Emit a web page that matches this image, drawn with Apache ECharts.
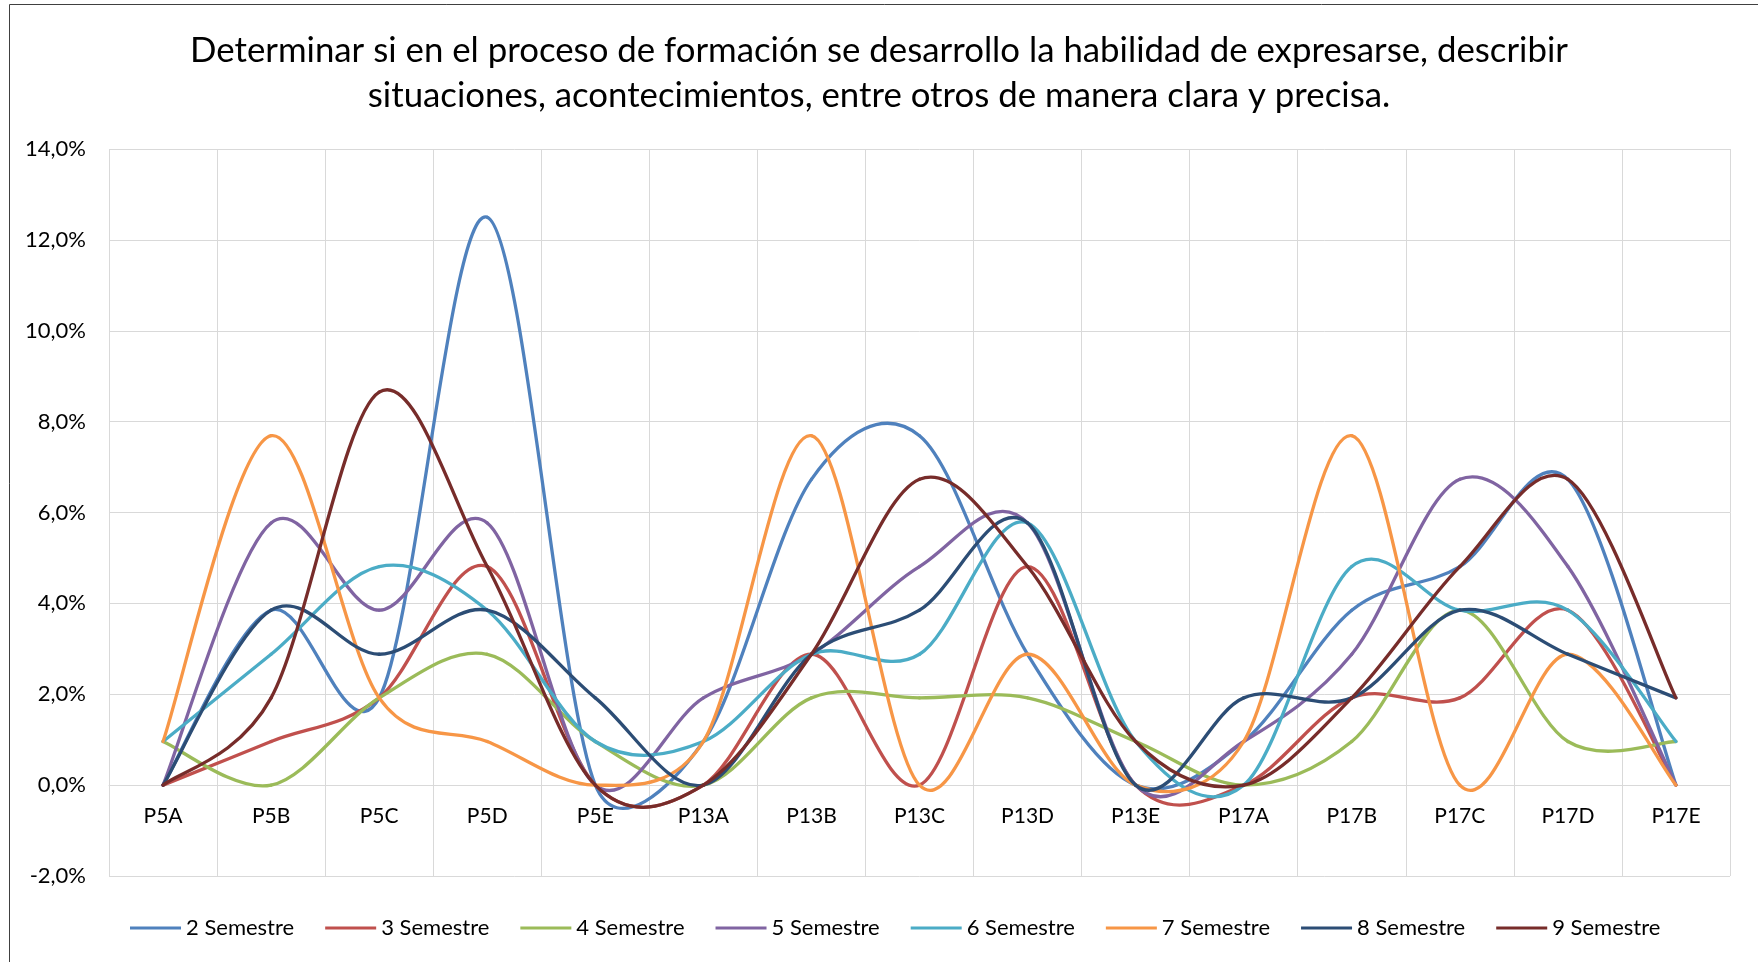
<!DOCTYPE html>
<html>
<head>
<meta charset="utf-8">
<title>Determinar si en el proceso de formación...</title>
<script src="https://cdn.jsdelivr.net/npm/echarts@6/dist/echarts.min.js"></script>
<style>
	html, body { margin: 0; padding: 0; background: #fff; }
	#chart { width: 1758px; height: 962px; }
</style>
</head>
<body>
<div id="chart"></div>
<script>
	// preguntas (eje x)
	var categories = ['P5A', 'P5B', 'P5C', 'P5D', 'P5E', 'P13A', 'P13B', 'P13C', 'P13D', 'P13E', 'P17A', 'P17B', 'P17C', 'P17D', 'P17E'];
	// porcentajes por semestre
	var sem2 = [0, 3.85, 1.92, 12.5, 0, 0.96, 6.73, 7.69, 2.88, 0, 0.96, 3.85, 4.81, 6.73, 0];
	var sem3 = [0, 0.96, 1.92, 4.81, 0, 0, 2.88, 0, 4.81, 0, 0, 1.92, 1.92, 3.85, 0];
	var sem4 = [0.96, 0, 1.92, 2.88, 0.96, 0, 1.92, 1.92, 1.92, 0.96, 0, 0.96, 3.85, 0.96, 0.96];
	var sem5 = [0, 5.77, 3.85, 5.77, 0, 1.92, 2.88, 4.81, 5.77, 0, 0.96, 2.88, 6.73, 4.81, 0];
	var sem6 = [0.96, 2.88, 4.81, 3.85, 0.96, 0.96, 2.88, 2.88, 5.77, 0.96, 0, 4.81, 3.85, 3.85, 0.96];
	var sem7 = [0.96, 7.69, 1.92, 0.96, 0, 0.96, 7.69, 0, 2.88, 0, 0.96, 7.69, 0, 2.88, 0];
	var sem8 = [0, 3.85, 2.88, 3.85, 1.92, 0, 2.88, 3.85, 5.77, 0, 1.92, 1.92, 3.85, 2.88, 1.92];
	var sem9 = [0, 1.92, 8.65, 4.81, 0, 0, 2.88, 6.73, 4.81, 0.96, 0, 1.92, 4.81, 6.73, 1.92];
	var seriesNames = ['2 Semestre', '3 Semestre', '4 Semestre', '5 Semestre', '6 Semestre', '7 Semestre', '8 Semestre', '9 Semestre'];
	var yTicks = { min: -2, max: 14, interval: 2 };

	var colors = ['#4F81BD', '#C0504D', '#9BBB59', '#8064A2', '#4BACC6', '#F79646', '#2C4D75', '#772C2A'];
	var allData = [sem2, sem3, sem4, sem5, sem6, sem7, sem8, sem9];
	var font = 'Lato, "Noto Sans", sans-serif';

	var chart = echarts.init(document.getElementById('chart'));

	function dist(a, b) {
		return Math.sqrt((a[0] - b[0]) * (a[0] - b[0]) + (a[1] - b[1]) * (a[1] - b[1]));
	}

	// curva suavizada estilo Excel: un tramo bezier entre el punto i y el i+1
	function makeRenderItem(arr, color) {
		return function (params, api) {
			var i = params.dataIndex;
			if (i >= arr.length - 1) return null;
			var pt = function (k) {
				k = Math.max(0, Math.min(arr.length - 1, k));
				return api.coord([k, arr[k]]);
			};
			var p0 = pt(i - 1), p1 = pt(i), p2 = pt(i + 1), p3 = pt(i + 2);
			var d12 = dist(p1, p2);
			var d02 = dist(p0, p2);
			var d13 = dist(p1, p3);
			var f1 = 1 / 6, f2 = 1 / 6;
			if (d02 / 6 > d12 / 2 && d02 > 0) f1 = d12 / 2 / d02;
			if (d13 / 6 > d12 / 2 && d13 > 0) f2 = d12 / 2 / d13;
			return {
				type: 'bezierCurve',
				shape: {
					x1: p1[0], y1: p1[1],
					x2: p2[0], y2: p2[1],
					cpx1: p1[0] + f1 * (p2[0] - p0[0]),
					cpy1: p1[1] + f1 * (p2[1] - p0[1]),
					cpx2: p2[0] - f2 * (p3[0] - p1[0]),
					cpy2: p2[1] - f2 * (p3[1] - p1[1])
				},
				style: { fill: null, stroke: color, lineWidth: 3.3, lineCap: 'round' },
				silent: true
			};
		};
	}

	var series = [];
	for (var s = 0; s < allData.length; s++) {
		series.push({
			name: seriesNames[s],
			type: 'custom',
			renderItem: makeRenderItem(allData[s], colors[s]),
			data: allData[s].map(function (v, k) { return [k, v]; }),
			encode: { x: 0, y: 1 },
			itemStyle: { color: colors[s] },
			clip: false
		});
	}

	var option = {
		backgroundColor: '#fff',
		animation: false,
		color: colors,
		title: {
			text: 'Determinar si en el proceso de formación se desarrollo la habilidad de expresarse, describir\nsituaciones, acontecimientos, entre otros de manera clara y precisa.',
			left: 'center',
			top: 23,
			textStyle: {
				fontFamily: font,
				fontSize: 34.8,
				fontWeight: 'normal',
				color: '#000',
				lineHeight: 45
			}
		},
		legend: {
			data: seriesNames,
			left: 125,
			top: 912,
			icon: 'rect',
			itemWidth: 51,
			itemHeight: 3,
			itemGap: 31,
			textStyle: { fontFamily: font, fontSize: 22, color: '#000' }
		},
		grid: { left: 109, right: 28, top: 149, bottom: 86 },
		xAxis: {
			type: 'category',
			data: categories,
			boundaryGap: true,
			offset: -91,
			axisLine: { onZero: false, lineStyle: { color: '#d9d9d9', width: 1 } },
			axisTick: { show: false },
			axisLabel: { margin: 21, fontFamily: font, fontSize: 21, color: '#000' },
			splitLine: { show: true, lineStyle: { color: '#d9d9d9', width: 1 } }
		},
		yAxis: {
			type: 'value',
			min: yTicks.min,
			max: yTicks.max,
			interval: yTicks.interval,
			axisLine: { show: false },
			axisTick: { show: false },
			axisLabel: {
				margin: 23,
				fontFamily: font,
				fontSize: 22,
				color: '#000',
				formatter: function (v) { return v.toFixed(1).replace('.', ',') + '%'; }
			},
			splitLine: { lineStyle: { color: '#d9d9d9', width: 1 } }
		},
		graphic: [{
			type: 'rect',
			shape: { x: 9.5, y: 4.5, width: 1800, height: 1000 },
			style: { fill: null, stroke: '#404040', lineWidth: 1 },
			silent: true
		}],
		series: series
	};

	chart.setOption(option);
</script>
</body>
</html>
